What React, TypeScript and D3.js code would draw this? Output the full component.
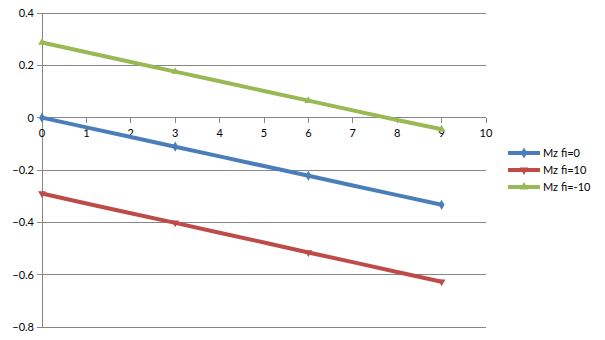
import React from "react";
import * as d3 from "d3";

const xValues = [0, 1, 2, 3, 4, 5, 6, 7, 8, 9];
const mzFi0 = [0, -0.037, -0.074, -0.111, -0.148, -0.185, -0.222, -0.259, -0.296, -0.333];
const mzFi10 = [-0.29, -0.328, -0.365, -0.402, -0.44, -0.477, -0.515, -0.552, -0.59, -0.627];
const mzFiM10 = [0.287, 0.25, 0.213, 0.176, 0.139, 0.102, 0.065, 0.028, -0.009, -0.044];
const markerX = [0, 3, 6, 9];
const seriesNames = ["Mz fi=0", "Mz fi=10", "Mz fi=-10"];
const xTicks = [0, 1, 2, 3, 4, 5, 6, 7, 8, 9, 10];
const yTicks = [0.4, 0.2, 0, -0.2, -0.4, -0.6, -0.8];

const colors = ["#4a7ebb", "#be4b48", "#98b954"];
const symbols = [d3.symbolDiamond, d3.symbolTriangle, d3.symbolTriangle];
const rotations = [0, 180, 0];

export default function App() {
  const W = 605, H = 340;
  const x = d3.scaleLinear().domain([0, 10]).range([42, 486]);
  const y = d3.scaleLinear().domain([-0.8, 0.4]).range([327, 13]);
  const series = [mzFi0, mzFi10, mzFiM10];
  const line = d3.line<number>().x((_, i) => x(xValues[i])).y((d) => y(d));
  const font = "Lato, 'Noto Sans', sans-serif";
  const axisColor = "#868686";
  const symSize = [30, 26, 26];

  return (
    <svg width={W} height={H} style={{ position: "absolute", left: 0, top: 0 }}>
      <rect x={0} y={0} width={W} height={H} fill="#fff" />
      {yTicks.map((t) => (
        <g key={"y" + t}>
          <line x1={37} x2={x(10)} y1={y(t)} y2={y(t)} stroke={axisColor} strokeWidth={1} shapeRendering="crispEdges" />
          <text x={34} y={y(t) + 4} textAnchor="end" fontFamily={font} fontSize={11} fill="#000">
            {t === 0 ? "0" : d3.format(".1f")(t)}
          </text>
        </g>
      ))}
      <line x1={x(0)} x2={x(0)} y1={y(0.4)} y2={y(-0.8)} stroke={axisColor} strokeWidth={1} shapeRendering="crispEdges" />
      {xTicks.map((t) => (
        <g key={"x" + t}>
          <line x1={x(t)} x2={x(t)} y1={y(0)} y2={y(0) + 5} stroke={axisColor} strokeWidth={1} shapeRendering="crispEdges" />
          <text x={x(t)} y={y(0) + 19} textAnchor="middle" fontFamily={font} fontSize={11} fill="#000">
            {t}
          </text>
        </g>
      ))}
      {series.map((s, si) => (
        <g key={"s" + si}>
          <path d={line(s) || ""} fill="none" stroke={colors[si]} strokeWidth={4} strokeLinejoin="round" />
          {markerX.map((mx) => {
            const i = xValues.indexOf(mx);
            return (
              <path
                key={mx}
                d={d3.symbol().type(symbols[si]).size(symSize[si])() || ""}
                transform={`translate(${x(mx)},${y(s[i])}) rotate(${rotations[si]})`}
                fill={colors[si]}
              />
            );
          })}
        </g>
      ))}
      {seriesNames.map((n, si) => {
        const ly = 153 + si * 17;
        return (
          <g key={"l" + si}>
            <line x1={508} x2={540} y1={ly} y2={ly} stroke={colors[si]} strokeWidth={4} />
            <path
              d={d3.symbol().type(symbols[si]).size(symSize[si] + 6)() || ""}
              transform={`translate(524,${ly}) rotate(${rotations[si]})`}
              fill={colors[si]}
            />
            <text x={543} y={ly + 4} fontFamily={font} fontSize={11} fill="#000">
              {n}
            </text>
          </g>
        );
      })}
    </svg>
  );
}
